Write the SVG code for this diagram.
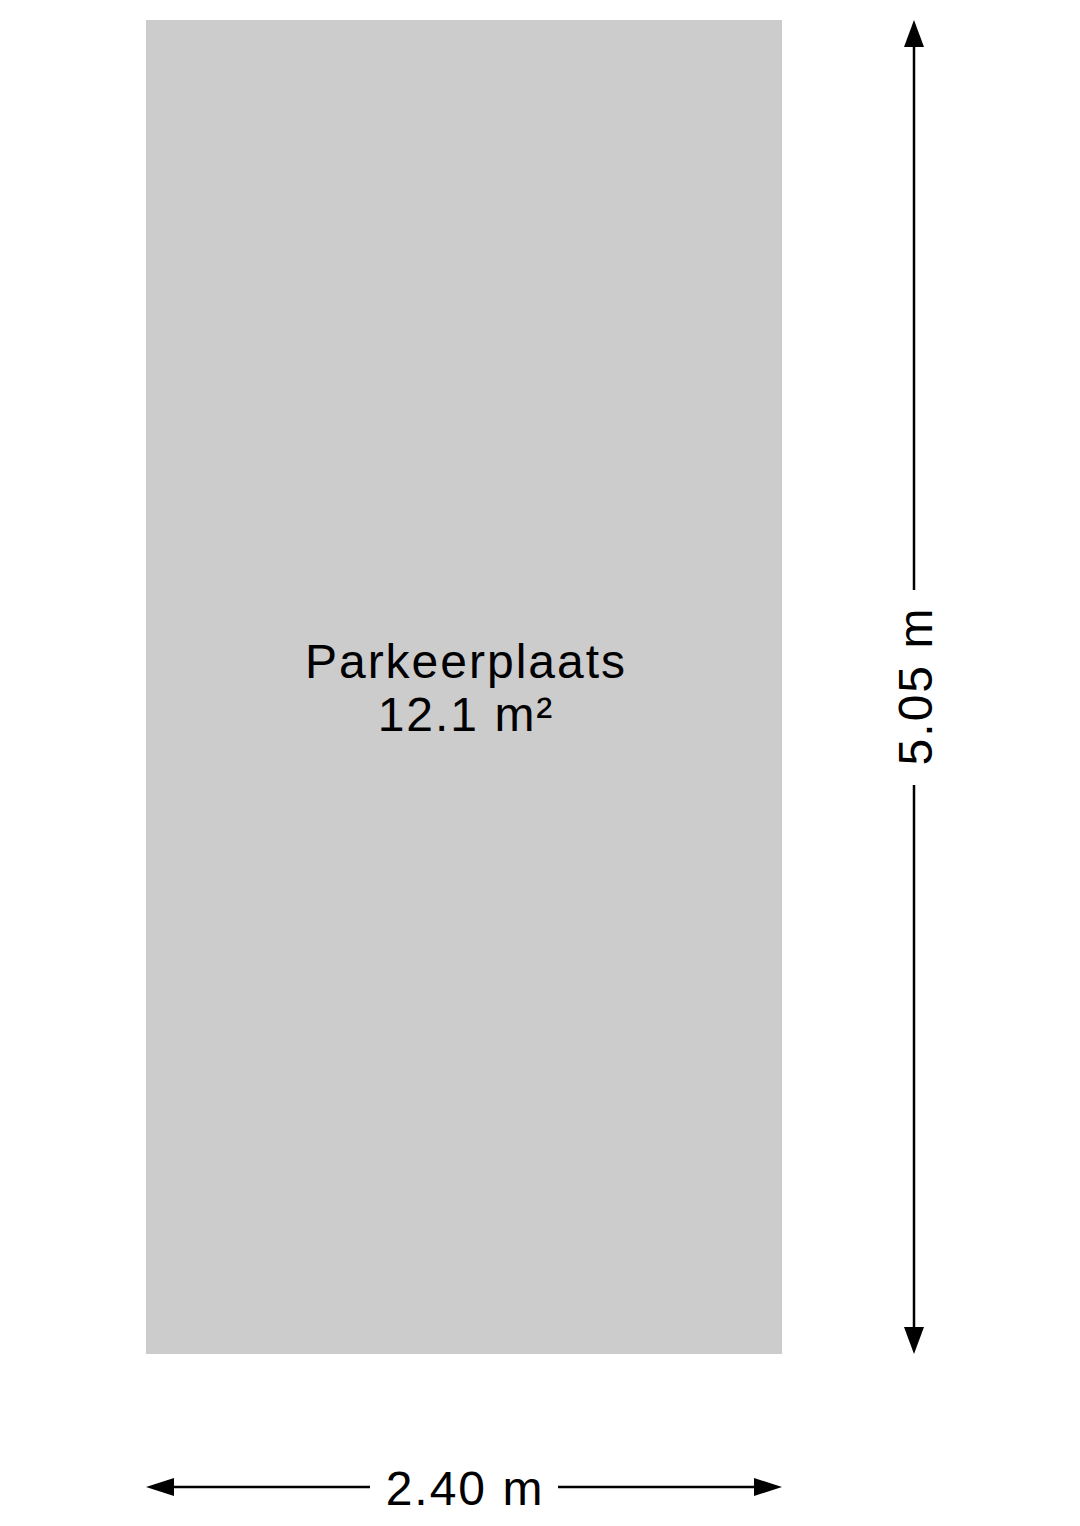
<svg xmlns="http://www.w3.org/2000/svg" width="1080" height="1526" viewBox="0 0 1080 1526">
<style>
.lbl{font-family:"Liberation Sans",Arial,sans-serif;font-size:48px;letter-spacing:2px;fill:#000;text-anchor:middle}
.dim{stroke:#000;stroke-width:2.5;fill:none}
.ah{fill:#000}
</style>
<rect width="1080" height="1526" fill="#fff"/>
<g id="room">
<rect x="146" y="20" width="636" height="1334" fill="#cccccc"/>
<text class="lbl" x="466" y="678">Parkeerplaats</text>
<text class="lbl" x="466" y="731">12.1 m²</text>
</g>
<g id="dimensions">
<line class="dim" x1="914" y1="40" x2="914" y2="590"/>
<line class="dim" x1="914" y1="785" x2="914" y2="1334"/>
<polygon class="ah" points="914,20 904,47 924,47"/>
<polygon class="ah" points="914,1354 904,1327 924,1327"/>
<text class="lbl" transform="translate(932,686) rotate(-90)">5.05 m</text>
<line class="dim" x1="166" y1="1487" x2="370" y2="1487"/>
<line class="dim" x1="558" y1="1487" x2="762" y2="1487"/>
<polygon class="ah" points="146,1487 174,1478 174,1496"/>
<polygon class="ah" points="782,1487 754,1478 754,1496"/>
<text class="lbl" x="465" y="1505">2.40 m</text>
</g>
</svg>
